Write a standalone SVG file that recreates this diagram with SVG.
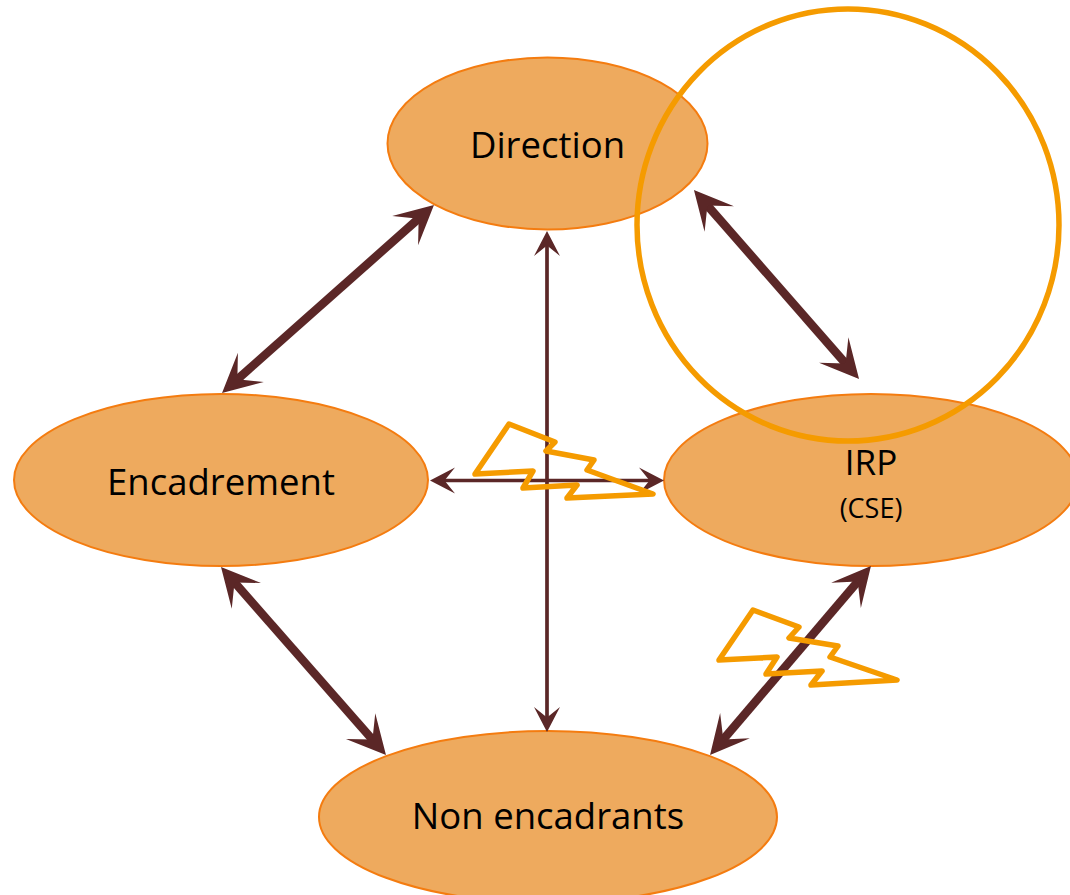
<svg xmlns="http://www.w3.org/2000/svg" width="1070" height="895" viewBox="0 0 1070 895">
<style>
.n{fill:#EEAA5E;stroke:#F47C10;stroke-width:2}
.t{font-family:"Open Sans","Liberation Sans",sans-serif;font-size:36.500px;fill:#000;text-anchor:middle}
.s{font-size:27px}
.thick{stroke:#5B2727;stroke-width:8.500;fill:none;marker-start:url(#hb);marker-end:url(#hb)}
.thin{stroke:#5B2727;stroke-width:3.700;fill:none;marker-start:url(#hs);marker-end:url(#hs)}
.bolt{fill:none;stroke:#F59B00;stroke-width:5.500;stroke-linejoin:round}
</style>
<defs>
<marker id="hb" markerUnits="userSpaceOnUse" markerWidth="44" markerHeight="44" refX="20" refY="22" orient="auto-start-reverse"><path d="M40 22L1.500 2.500L19.500 22L1.500 41.500Z" fill="#5B2727"/></marker>
<marker id="hs" markerUnits="userSpaceOnUse" markerWidth="30" markerHeight="30" refX="13" refY="15" orient="auto-start-reverse"><path d="M27 15L2 2L12.500 15L2 28Z" fill="#5B2727"/></marker>
</defs>
<g id="node-direction"><ellipse class="n" cx="547.500" cy="143.500" rx="160" ry="86"/><text class="t" x="547.500" y="158">Direction</text></g>
<g id="node-encadrement"><ellipse class="n" cx="221" cy="480" rx="207" ry="86"/><text class="t" x="221" y="495">Encadrement</text></g>
<g id="node-irp"><ellipse class="n" cx="871" cy="480" rx="207" ry="86"/><text class="t" x="871" y="475" style="font-size:35px">IRP</text><text class="t s" x="871" y="518">(CSE)</text></g>
<g id="node-non-encadrants"><ellipse class="n" cx="548" cy="817" rx="229" ry="86"/><text class="t" x="548" y="829">Non encadrants</text></g>
<g id="connectors">
<line class="thick" x1="419" y1="218.300" x2="237" y2="379.700"/>
<line class="thick" x1="707.100" y1="205.100" x2="845.900" y2="363.900"/>
<line class="thick" x1="858" y1="581.200" x2="723" y2="739.800"/>
<line class="thick" x1="234.200" y1="582" x2="372.800" y2="740"/>
<line class="thin" x1="547" y1="245" x2="547" y2="718"/>
<line class="thin" x1="444" y1="480.500" x2="650" y2="480.500"/>
</g>
<g id="accents">
<polygon class="bolt" points="509,424 555,442 546,451 594,460 587,470 653,494 567,498 577,485 523,488 533,471 475,474"/>
<polygon class="bolt" points="753,610 799,627 789,638 838,646 830,657 897,680 811,685 822,671 766,674 777,657 719,660"/>
<ellipse cx="848" cy="225" rx="211" ry="216" fill="none" stroke="#F59B00" stroke-width="5.500"/>
</g>
</svg>
